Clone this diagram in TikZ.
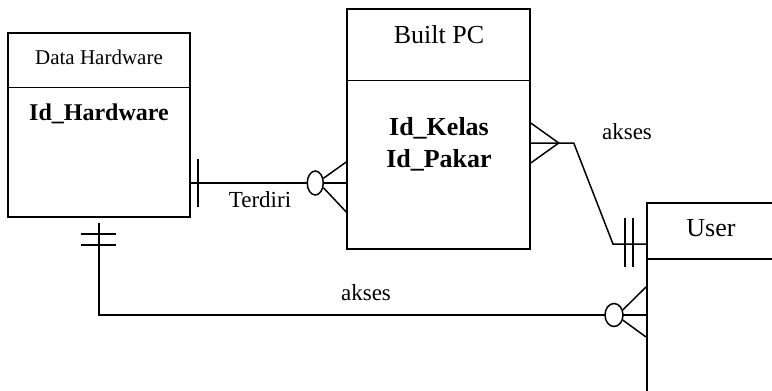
\documentclass[tikz,border=0pt]{standalone}
\usepackage{fontspec}
\setmainfont{Liberation Serif}
\usetikzlibrary{positioning,shapes.geometric}

\begin{document}
\begin{tikzpicture}[x=1pt, y=-1pt, line width=1.5pt]
\tikzstyle{entity} = [draw, rectangle, inner sep=0pt]
\tikzstyle{title} = [font=\fontsize{26}{30}\selectfont, inner sep=0pt]
\tikzstyle{attr} = [font=\fontsize{26}{32}\selectfont\bfseries, align=center, inner sep=0pt]
\tikzstyle{rel} = [font=\fontsize{23}{27}\selectfont, inner sep=0pt]
\tikzstyle{opt} = [draw, ellipse, fill=white, inner sep=0pt]
\tikzstyle{line} = [draw]

\path [use as bounding box, clip] (0,0) rectangle (772,391);

% entities
\node [entity, minimum width=182pt, minimum height=184pt] (DH) at (99,125) {};
\node [entity, minimum width=183pt, minimum height=240pt] (BPC) at (438.5,129) {};
\node [entity, minimum width=160pt, minimum height=220pt, anchor=north west] (US) at (646,202) {};

\draw ([yshift=-55pt]DH.north west) -- ([yshift=-55pt]DH.north east);
\draw ([yshift=-72pt]BPC.north west) -- ([yshift=-72pt]BPC.north east);
\draw ([yshift=-57pt]US.north west) -- ([yshift=-57pt]US.north east);

\node [title, font=\fontsize{21}{25}\selectfont] (DHtitle) at (99,57) {Data Hardware};
\node [attr, font=\fontsize{24}{28}\selectfont\bfseries] (DHkey) at (99,114) {Id\_Hardware};
\node [title] (BPCtitle) at (439,35) {Built PC};
\node [attr] (BPCkey) at (439,144) {Id\_Kelas\\Id\_Pakar};
\node [title] (UStitle) at (711,228) {User};

% Terdiri
\coordinate (t1) at ([yshift=-58pt]DH.east);
\coordinate (t2) at (t1 -| BPC.west);
\path [line] (t1) -- (t2);
\draw ([xshift=7pt]t1) ++(0,-24) -- ++(0,48);
\node [opt, minimum width=16pt, minimum height=24pt] (o1) at ([xshift=-31pt]t2) {};
\draw (o1.30) -- ([yshift=21pt]t2);
\draw (o1.-30) -- ([yshift=-29pt]t2);
\node [rel] (terdiri) at (260,200) {Terdiri};

% akses (Built PC - User)
\coordinate (a1) at ([yshift=-14pt]BPC.east);
\coordinate (k1) at ([xshift=28pt]a1);
\coordinate (a2) at ([xshift=43pt]a1);
\coordinate (a4) at ([yshift=-42pt]US.north west);
\coordinate (a3) at ([xshift=-33pt]a4);
\draw ([yshift=20pt]a1) -- (k1) -- ([yshift=-20pt]a1);
\path [line] (a1) -- (a2) -- (a3) -- (a4);
\draw ([xshift=-21pt]a4) ++(0,-26) -- ++(0,49);
\draw ([xshift=-13pt]a4) ++(0,-26) -- ++(0,49);
\node [rel] (akses1) at (627,132) {akses};

% akses (Data Hardware - User)
\coordinate (b1) at ([yshift=-5pt]DH.south);
\coordinate (b3) at ([yshift=-113pt]US.north west);
\coordinate (b2) at (b1 |- b3);
\path [line] (b1) -- (b2) -- (b3);
\draw ([yshift=-16pt]DH.south) ++(-18,0) -- ++(35,0);
\draw ([yshift=-27pt]DH.south) ++(-18,0) -- ++(35,0);
\node [opt, minimum width=18pt, minimum height=23pt] (o2) at ([xshift=-32pt]b3) {};
\draw (o2.30) -- ([yshift=28pt]b3);
\draw (o2.-30) -- ([yshift=-22pt]b3);
\node [rel] (akses2) at (366,293) {akses};
\end{tikzpicture}
\end{document}
